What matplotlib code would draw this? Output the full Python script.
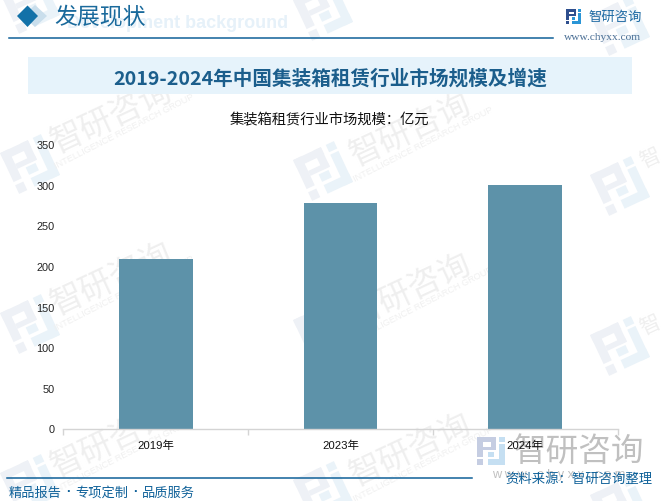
import matplotlib
matplotlib.use("Agg")
import matplotlib.pyplot as plt
from matplotlib.patches import Rectangle, Polygon
from matplotlib.transforms import Affine2D

plt.rcParams['font.family'] = ['Noto Sans CJK SC', 'DejaVu Sans']

categories = ['2019年', '2023年', '2024年']
values = [208.7, 277.7, 300]
y_ticks = [0, 50, 100, 150, 200, 250, 300, 350]
title = '2019-2024年中国集装箱租赁行业市场规模及增速'
subtitle = '集装箱租赁行业市场规模：亿元'
footer_parts = ['精品报告', '专项定制', '品质服务']
BAR = '#5d92a9'
BLUE = '#0f6199'
W, H = 661, 502

fig = plt.figure(figsize=(W / 100, H / 100), dpi=100, facecolor='white')
bg = fig.add_axes([0, 0, 1, 1], zorder=0)
bg.set_xlim(0, W); bg.set_ylim(H, 0); bg.axis('off')

DARK_PARTS = [(0, 0, .68, .18), (0, 0, .2, .71), (.5, 0, .18, .47), (.2, .36, .48, .12), (0, .79, .2, .21)]
LIGHT_PARTS = [(.8, 0, .2, .18), (.8, .24, .2, .76), (.38, .79, .62, .21), (.38, .53, .24, .18)]

def logo(cx, cy, size, angle, dark, light, z=1):
    tr = (Affine2D().translate(-.5, -.5).scale(size).rotate_deg(angle)
          .translate(cx, cy) + bg.transData)
    for parts, c in ((DARK_PARTS, dark), (LIGHT_PARTS, light)):
        for x, y, w, h in parts:
            bg.add_patch(Rectangle((x, y), w, h, fc=c, ec='none', transform=tr, zorder=z))

# tiled watermark
WM_LOGO = [(30, 5), (323, 12), (620, 27),
           (30, 165), (323, 172), (620, 187),
           (30, 325), (323, 332), (620, 347),
           (30, 485), (323, 492), (620, 507)]
WM_TEXT = [(112, 117), (411, 130),
           (112, 279), (411, 290),
           (112, 441), (411, 450)]
WM_EDGE = [(650, 158), (650, 325)]
for x, y in WM_LOGO:
    logo(x, y, 45, -25, '#eef1f6', '#eaf3f9')
for x, y in WM_TEXT:
    bg.text(x, y, '智研咨询', fontsize=23.5, color='#efefef', rotation=25, ha='center', va='center',
            zorder=1, clip_on=True)
    bg.text(x + 12, y + 15, 'INTELLIGENCE RESEARCH GROUP', fontsize=6.6, color='#f0f0f0', rotation=27,
            ha='center', va='center', zorder=1, family='Liberation Sans', clip_on=True)
for x, y in WM_EDGE:
    bg.text(x, y, '智', fontsize=15, color='#efefef', rotation=25, ha='center', va='center', zorder=1)

# header
bg.text(288, 23, 'Development background', fontsize=13, fontweight='bold', color='#e6f1f9',
        ha='right', va='center', family='Liberation Sans', zorder=2)
bg.add_patch(Polygon([(35, 6), (47, 17), (35, 28), (23, 17)], fc='#c9deec', ec='none', zorder=2))
bg.add_patch(Polygon([(27.5, 6.5), (38, 17), (27.5, 28), (17, 17)], fc='#1271a8', ec='none', zorder=3))
bg.text(100.5, 17, '发展现状', fontsize=16.5, color='#1a6a9c', ha='center', va='center', zorder=3)
bg.plot([9, 553], [38.5, 38.5], color=BLUE, lw=1.1, zorder=3)

logo(573.5, 17.5, 15, 0, '#2e4f8e', '#2a95d6', z=3)
bg.text(615, 17, '智研咨询', fontsize=9.6, color='#1e6aa3', ha='center', va='center', zorder=3)
bg.text(603, 37, 'www.chyxx.com', fontsize=8.2, color='#4a6f95', ha='center', va='center',
        family='Liberation Serif', zorder=3)

# title band
bg.add_patch(Rectangle((28, 58), 604, 37, fc='#e6f3fb', ec='none', zorder=2))
bg.text(330, 79, title, fontsize=14.1, fontweight='bold', color='#1b5e8c', ha='center', va='center', zorder=3)
bg.text(329, 120, subtitle, fontsize=10.3, color='#111111', ha='center', va='center', zorder=3)

# footer
bg.plot([7, 472], [478.5, 478.5], color=BLUE, lw=1.1, zorder=3)
for x, part in zip((9, 75, 142), footer_parts):
    bg.text(x, 493, part, fontsize=9.5, color=BLUE, ha='left', va='center', zorder=3)
for x in (68, 135):
    bg.text(x, 492, '·', fontsize=9.5, fontweight='bold', color=BLUE, ha='center', va='center',
            family='Liberation Sans', zorder=3)
logo(491, 452, 28, 0, '#c5cde2', '#c5dff2', z=2)
bg.text(578.5, 452, '智研咨询', fontsize=23.5, color='#c0c0c0', ha='center', va='center', zorder=2)
bg.text(559, 475, 'w w w . c h y x x . c o m', fontsize=9.2, color='#c0c0c0', ha='center', va='center',
        family='Liberation Sans', zorder=2)
bg.text(652, 479, '资料来源：智研咨询整理', fontsize=9.6, color=BLUE, ha='right', va='center', zorder=3)

# chart
left, right, top, bottom = 63.5, 617.5, 145.3, 429.5
ax = fig.add_axes([left / W, 1 - bottom / H, (right - left) / W, (bottom - top) / H], zorder=2)
ax.patch.set_alpha(0)
xs = range(len(categories))
ax.bar(xs, values, width=0.4, color=BAR, zorder=2)
ax.set_xlim(-.5, len(categories) - .5)
ax.set_ylim(0, 350)
ax.set_yticks(y_ticks)
ax.set_xticks(list(xs))
ax.set_xticklabels(categories)
ax.set_xticks([-.5, .5, 1.5, 2.5], minor=True)
for s in ('top', 'right', 'left'):
    ax.spines[s].set_visible(False)
ax.spines['bottom'].set_color('#d4d4d4')
ax.spines['bottom'].set_linewidth(1.0)
ax.tick_params(axis='y', length=0, pad=6.5, labelsize=7.8, labelcolor='#222222')
ax.tick_params(axis='x', which='major', length=0, pad=8, labelsize=8.2, labelcolor='#111111')
ax.tick_params(axis='x', which='minor', length=4, color='#d4d4d4', width=1)
for lab in ax.get_yticklabels() + ax.get_xticklabels():
    lab.set_family(['Liberation Sans', 'Noto Sans CJK SC'])

fig.savefig('out.png', dpi=100, facecolor='white')
